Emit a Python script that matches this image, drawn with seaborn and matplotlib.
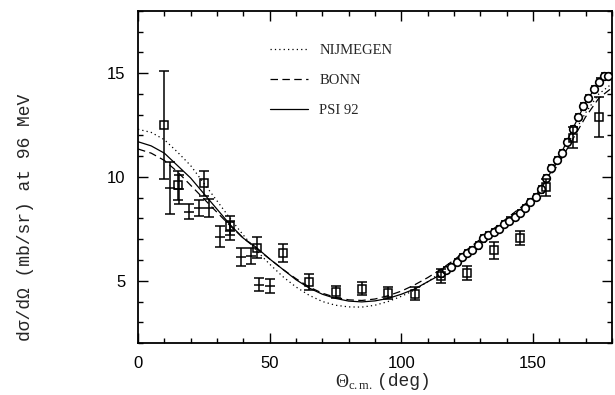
import numpy as np
import pandas as pd
import seaborn as sns
import matplotlib
matplotlib.use("Agg")
import matplotlib.pyplot as plt
from matplotlib.ticker import MultipleLocator

# ---- theory curves (cross section vs c.m. angle) ----
theta = [0, 5, 10, 15, 20, 25, 30, 35, 40, 45, 50, 55, 60, 65, 70, 75, 80, 85, 90,
         95, 100, 105, 110, 115, 120, 125, 130, 135, 140, 145, 150, 155, 160, 165,
         170, 175, 180]
nijmegen = [12.3, 12.15, 11.8, 11.2, 10.55, 9.7, 8.85, 8.0, 7.2, 6.45, 5.8, 5.2, 4.7,
            4.3, 4.0, 3.82, 3.74, 3.73, 3.82, 4.0, 4.25, 4.55, 4.95, 5.4, 5.85, 6.35,
            6.85, 7.35, 7.85, 8.35, 8.95, 9.8, 10.9, 12.0, 13.1, 14.0, 14.5]
bonn = [11.35, 11.15, 10.8, 10.25, 9.6, 8.95, 8.3, 7.65, 7.05, 6.55, 6.05, 5.55, 5.1,
        4.7, 4.4, 4.2, 4.08, 4.05, 4.12, 4.28, 4.5, 4.8, 5.15, 5.55, 6.0, 6.5, 7.0,
        7.5, 8.0, 8.5, 9.0, 9.75, 10.7, 11.8, 12.9, 13.8, 14.3]
psi92 = [11.7, 11.5, 11.15, 10.55, 9.95, 9.2, 8.45, 7.7, 7.05, 6.6, 6.05, 5.55, 5.05,
         4.65, 4.35, 4.15, 4.02, 3.98, 4.03, 4.15, 4.35, 4.6, 4.95, 5.3, 5.8, 6.3,
         6.85, 7.35, 7.85, 8.3, 8.9, 9.85, 10.95, 12.3, 13.6, 14.55, 14.85]

# ---- measurements: open squares ----
sq_x = [10, 15, 25, 35, 45, 55, 65, 75, 85, 95, 105, 115, 125, 135, 145, 155, 165, 175]
sq_y = [12.5, 9.6, 9.7, 7.65, 6.6, 6.33, 4.94, 4.46, 4.62, 4.42, 4.38, 5.23, 5.38,
        6.46, 7.05, 9.5, 11.9, 12.9]
sq_err = [2.6, 0.7, 0.6, 0.45, 0.5, 0.45, 0.4, 0.3, 0.3, 0.3, 0.3, 0.35, 0.35, 0.4,
          0.35, 0.4, 0.5, 0.95]

# ---- measurements: forward-angle set (bars only) ----
cr_x = [12, 15.5, 19.5, 23, 27, 31, 35, 39, 43, 46, 50]
cr_y = [9.45, 9.4, 8.33, 8.5, 8.5, 7.13, 7.42, 6.14, 6.2, 4.81, 4.74]
cr_err = [1.25, 0.7, 0.35, 0.4, 0.45, 0.5, 0.45, 0.45, 0.4, 0.3, 0.35]

# ---- measurements: dense backward-angle set ----
dn_x = [115, 117, 119, 121, 123, 125, 127, 129, 131, 133, 135, 137, 139, 141, 143, 145,
        147, 149, 151, 153, 155, 157, 159, 161, 163, 165, 167, 169, 171, 173, 175, 177,
        178.5]
dn_y = [5.35, 5.5, 5.68, 5.9, 6.15, 6.35, 6.5, 6.7, 7.04, 7.2, 7.36, 7.5, 7.74, 7.9,
        8.07, 8.28, 8.52, 8.78, 9.05, 9.4, 9.95, 10.45, 10.82, 11.15, 11.67, 12.3, 12.9,
        13.4, 13.8, 14.25, 14.6, 14.85, 14.85]
dn_err = [0.15] * len(dn_x)

sns.set_theme(style="ticks")
plt.rcParams["font.family"] = ["Liberation Sans", "DejaVu Sans"]
plt.rcParams["mathtext.fontset"] = "custom"
plt.rcParams["mathtext.rm"] = "Liberation Serif"
plt.rcParams["mathtext.it"] = "Liberation Serif:italic"

fig = plt.figure(figsize=(6.15, 3.95), dpi=100)
ax = fig.add_axes([138 / 615, 1 - 343 / 395, 474 / 615, 332 / 395])

curves = pd.DataFrame({"theta": theta, "NIJMEGEN": nijmegen, "BONN": bonn, "PSI 92": psi92})
styles = {"NIJMEGEN": (0, (1, 2.5)), "BONN": (0, (6, 3.5)), "PSI 92": "-"}
for name, ls in styles.items():
    sns.lineplot(data=curves, x="theta", y=name, ax=ax, color="black",
                 linewidth=0.9, linestyle=ls, label=name)

ax.errorbar(cr_x, cr_y, yerr=cr_err, fmt="_", color="black", ms=7, mew=1.1,
            elinewidth=1.1, capsize=3.5, capthick=1.1, zorder=3)
ax.errorbar(dn_x, dn_y, yerr=dn_err, fmt="o", color="black", mfc="white", ms=5.5,
            mew=1.2, elinewidth=1.0, capsize=2.5, capthick=1.0, zorder=4)
ax.errorbar(sq_x, sq_y, yerr=sq_err, fmt="s", color="black", mfc="none", ms=6,
            mew=1.1, elinewidth=1.1, capsize=3.5, capthick=1.1, zorder=5)

ax.set_xlim(0, 180)
ax.set_ylim(2, 18)
ax.xaxis.set_major_locator(MultipleLocator(50))
ax.xaxis.set_minor_locator(MultipleLocator(10))
ax.yaxis.set_major_locator(MultipleLocator(5))
ax.yaxis.set_minor_locator(MultipleLocator(1))
ax.tick_params(which="both", direction="in", top=True, right=True, width=1.0,
               colors="black", labelsize=12)
ax.tick_params(which="major", length=7, pad=9)
ax.tick_params(which="minor", length=3.5)
for s in ax.spines.values():
    s.set_linewidth(1.3)
    s.set_color("black")
ax.set_xlabel("")
ax.set_ylabel("")

leg = ax.legend(loc="upper left", bbox_to_anchor=(0.278, 0.9), frameon=False,
                handlelength=2.6, handletextpad=0.8, labelspacing=1.15,
                borderpad=0, borderaxespad=0,
                prop={"family": "Liberation Serif", "size": 10.5})

fig.text(26 / 615, 1 - 217 / 395, "dσ/dΩ (mb/sr) at 96 MeV", rotation=90,
         ha="center", va="center", fontsize=13, family="Liberation Mono")
fig.text(373 / 615, 1 - 382 / 395, r"$\Theta_{\rm c.m.}$", ha="right",
         va="center", fontsize=13)
fig.text(377 / 615, 1 - 381 / 395, "(deg)", ha="left",
         va="center", fontsize=13, family="Liberation Mono")

fig.savefig("out.png", dpi=100, facecolor="white")
